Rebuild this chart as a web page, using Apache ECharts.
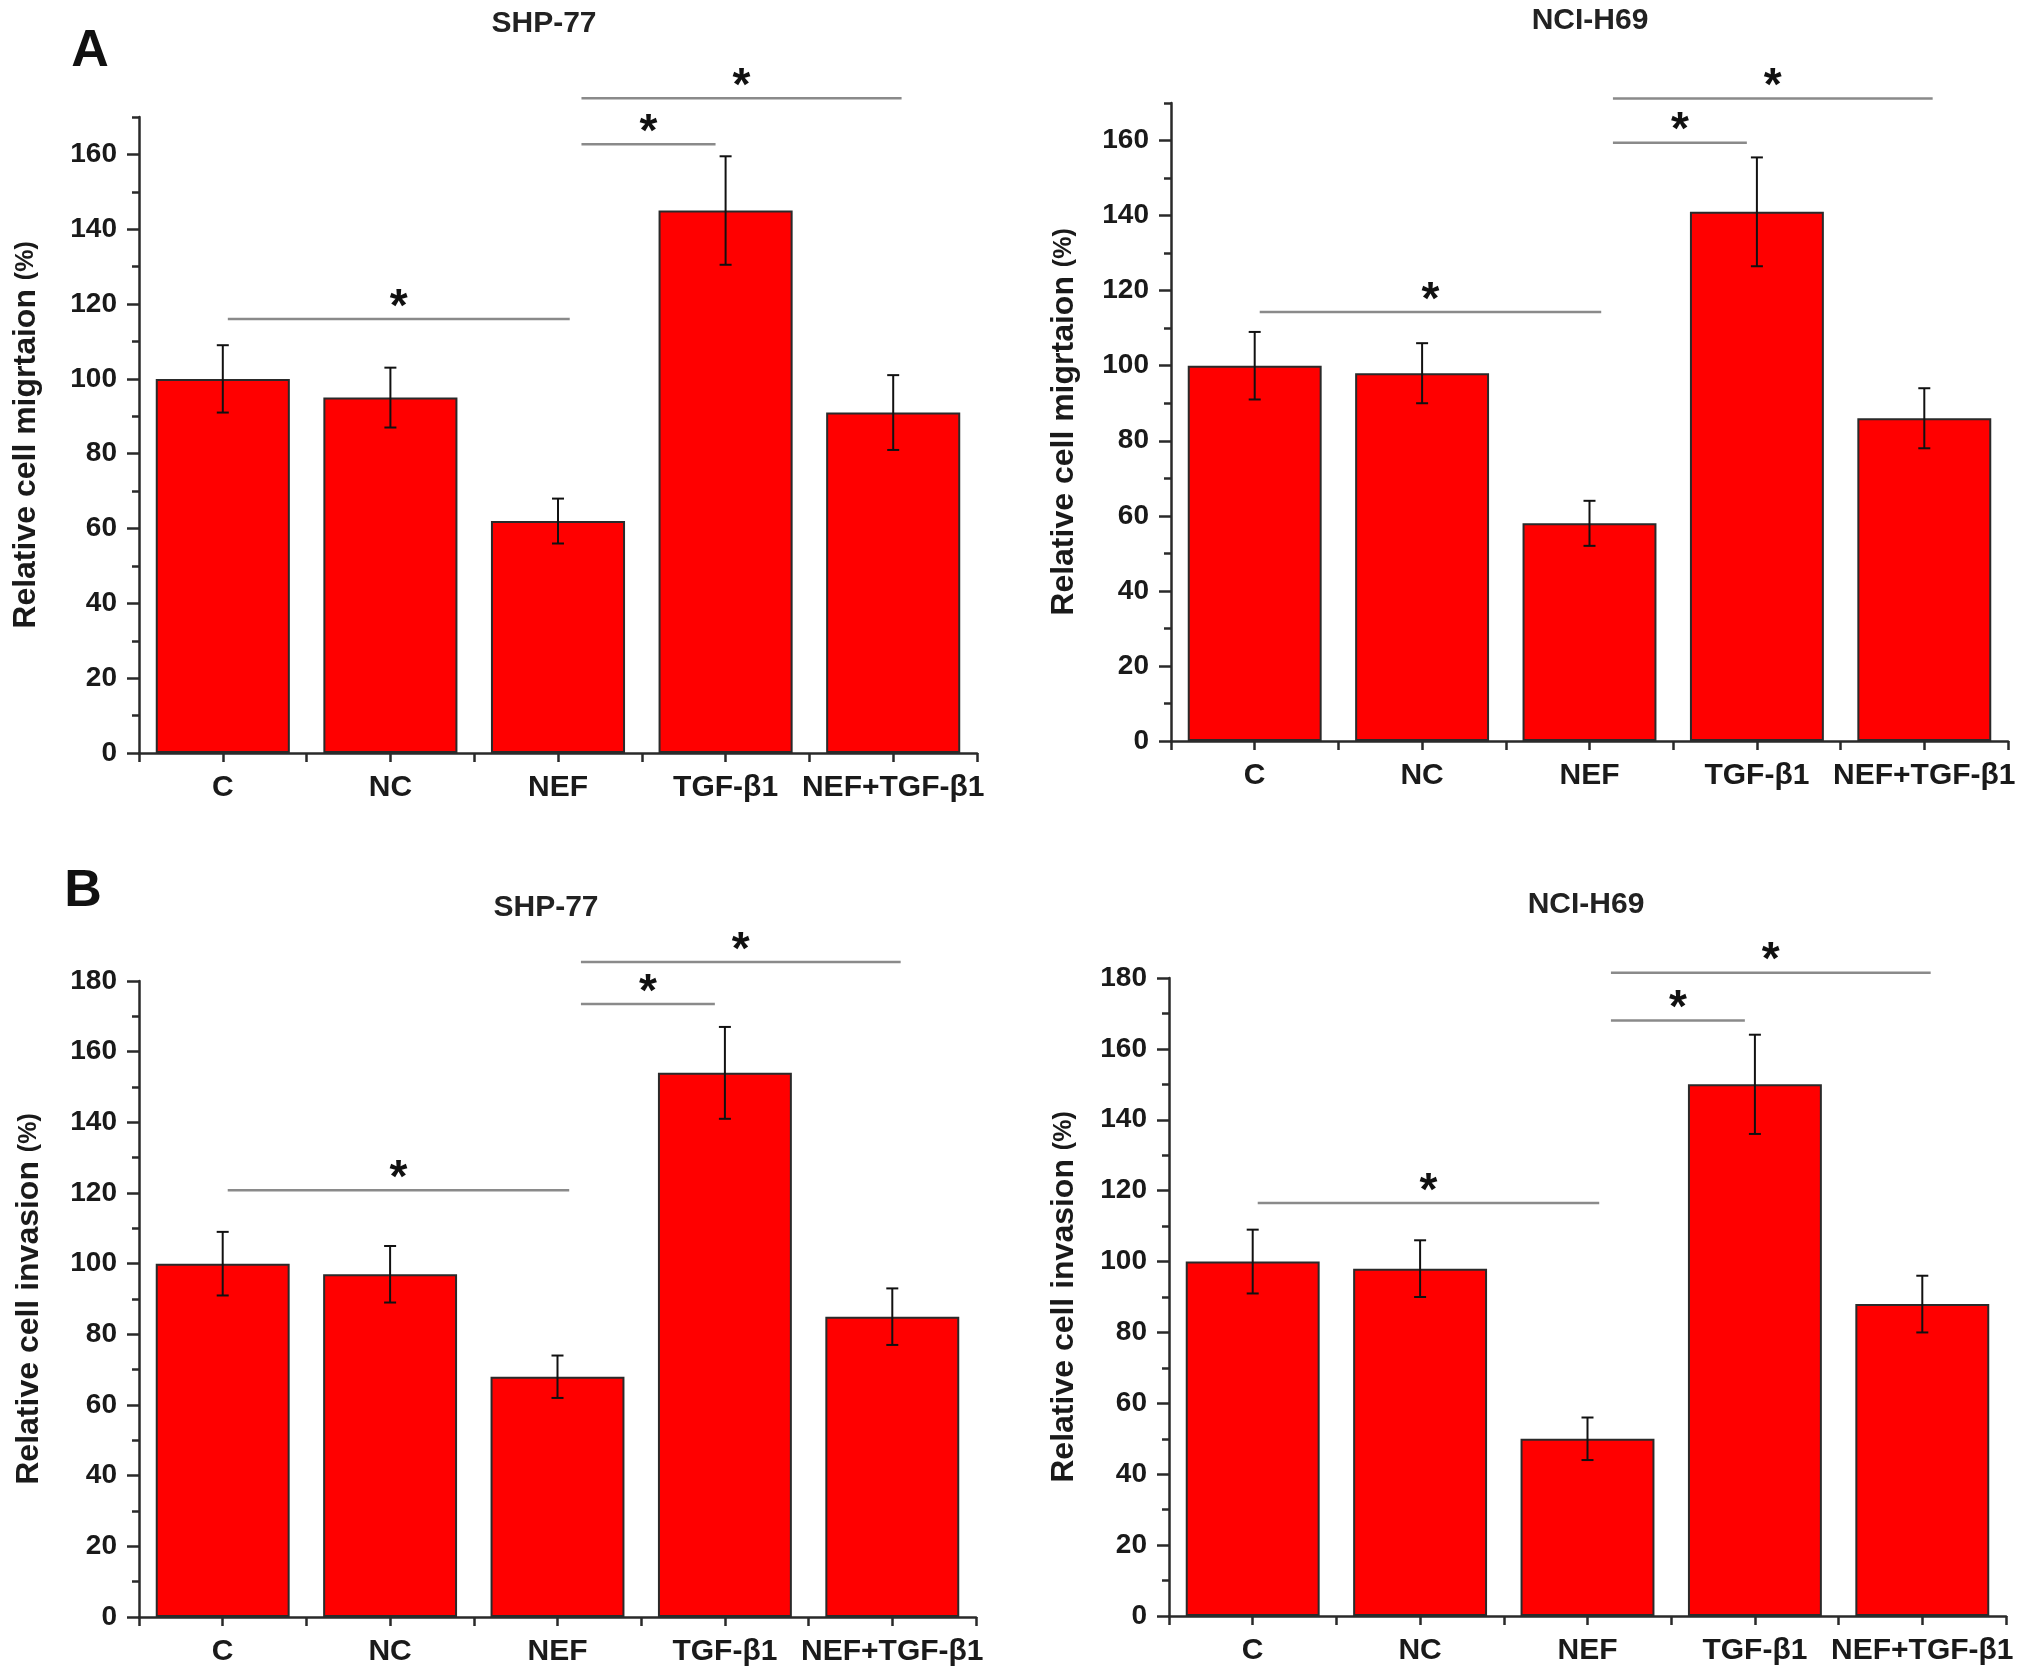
<!DOCTYPE html>
<html><head><meta charset="utf-8">
<script src="https://cdn.jsdelivr.net/npm/echarts@6/dist/echarts.min.js"></script>
<style>html,body{margin:0;padding:0;background:#fff}#c{width:2031px;height:1677px}</style>
</head><body><div id="c"></div>
<script>
// ---------- data ----------
const categories = ['C', 'NC', 'NEF', 'TGF-β1', 'NEF+TGF-β1'];

const migrationSHP = [100, 95, 62, 145, 91];
const migrationSHPErr = [9, 8, 6, 14.5, 10];
const migrationNCI = [100, 98, 58, 141, 86];
const migrationNCIErr = [9, 8, 6, 14.5, 8];
const invasionSHP = [100, 97, 68, 154, 85];
const invasionSHPErr = [9, 8, 6, 13, 8];
const invasionNCI = [100, 98, 50, 150, 88];
const invasionNCIErr = [9, 8, 6, 14, 8];

const migrationTicks = [0, 20, 40, 60, 80, 100, 120, 140, 160];
const migrationMinorTicks = [10, 30, 50, 70, 90, 110, 130, 150, 170];
const invasionTicks = [0, 20, 40, 60, 80, 100, 120, 140, 160, 180];
const invasionMinorTicks = [10, 30, 50, 70, 90, 110, 130, 150, 170];

// significance brackets: [from, to, height]
const sigMigrationSHP = [['C', 'NEF', 116], ['NEF', 'TGF-β1', 162.7], ['NEF', 'NEF+TGF-β1', 175]];
const sigMigrationNCI = [['C', 'NEF', 114.3], ['NEF', 'TGF-β1', 159.4], ['NEF', 'NEF+TGF-β1', 171.2]];
const sigInvasionSHP = [['C', 'NEF', 120.8], ['NEF', 'TGF-β1', 173.5], ['NEF', 'NEF+TGF-β1', 185.4]];
const sigInvasionNCI = [['C', 'NEF', 116.5], ['NEF', 'TGF-β1', 168], ['NEF', 'NEF+TGF-β1', 181.5]];

// ---------- styles ----------
const FONT = "'Liberation Sans', Arial, sans-serif";
const AXIS_COLOR = '#2a2a2a';
const bracketInset = [[0.03, 0.07], [0.14, -0.06], [0.14, 0.05]];

const panels = [
  { grid: { left: 139, right: 1054, top: 117, bottom: 924 }, max: 170, ticks: migrationTicks, minor: migrationMinorTicks,
    vals: migrationSHP, errs: migrationSHPErr, sig: sigMigrationSHP, name: 'Relative cell migrtaion', gap: 97,
    title: 'SHP-77', tx: 539, ty: 4 },
  { grid: { left: 1171, right: 23, top: 103, bottom: 936 }, max: 170, ticks: migrationTicks, minor: migrationMinorTicks,
    vals: migrationNCI, errs: migrationNCIErr, sig: sigMigrationNCI, name: 'Relative cell migrtaion', gap: 91,
    title: 'NCI-H69', tx: 1585, ty: 1 },
  { grid: { left: 139, right: 1055, top: 981, bottom: 60 }, max: 180, ticks: invasionTicks, minor: invasionMinorTicks,
    vals: invasionSHP, errs: invasionSHPErr, sig: sigInvasionSHP, name: 'Relative cell invasion', gap: 94,
    title: 'SHP-77', tx: 541, ty: 888 },
  { grid: { left: 1169, right: 25, top: 978, bottom: 61 }, max: 180, ticks: invasionTicks, minor: invasionMinorTicks,
    vals: invasionNCI, errs: invasionNCIErr, sig: sigInvasionNCI, name: 'Relative cell invasion', gap: 89,
    title: 'NCI-H69', tx: 1581, ty: 885 }
];

function renderErr(params, api) {
  const i = api.value(0), v = api.value(1), e = api.value(2);
  const top = api.coord([i, v + e]);
  const bot = api.coord([i, v - e]);
  const cap = 6;
  const st = { stroke: '#111', lineWidth: 2 };
  return { type: 'group', children: [
    { type: 'line', shape: { x1: top[0], y1: top[1], x2: bot[0], y2: bot[1] }, style: st },
    { type: 'line', shape: { x1: top[0] - cap, y1: top[1], x2: top[0] + cap, y2: top[1] }, style: st },
    { type: 'line', shape: { x1: bot[0] - cap, y1: bot[1], x2: bot[0] + cap, y2: bot[1] }, style: st }
  ]};
}

function renderSig(params, api) {
  const a = api.value(0), b = api.value(1), y = api.value(2);
  const band = api.size([1, 0])[0];
  const inset = bracketInset[params.dataIndex] || [0, 0];
  const p1 = api.coord([a, y]);
  const p2 = api.coord([b, y]);
  const x1 = p1[0] + inset[0] * band;
  const x2 = p2[0] + inset[1] * band;
  const yy = p1[1];
  return { type: 'group', children: [
    { type: 'line', shape: { x1: x1, y1: yy, x2: x2, y2: yy }, style: { stroke: '#8a8a8a', lineWidth: 2.5 } },
    { type: 'text', style: { text: '*', x: (x1 + x2) / 2, y: yy - 11, align: 'center', verticalAlign: 'middle',
      font: 'bold 46px ' + FONT, fill: '#111' } }
  ]};
}

const option = {
  backgroundColor: '#fff',
  animation: false,
  title: [], grid: [], xAxis: [], yAxis: [], series: [],
  graphic: [
    { type: 'text', style: { text: 'A', x: 90, y: 52, align: 'center', verticalAlign: 'middle', font: 'bold 52px ' + FONT, fill: '#111' } },
    { type: 'text', style: { text: 'B', x: 83, y: 892, align: 'center', verticalAlign: 'middle', font: 'bold 52px ' + FONT, fill: '#111' } }
  ]
};

panels.forEach((p, k) => {
  option.title.push({ text: p.title, left: p.tx, top: p.ty, textAlign: 'center',
    textStyle: { fontFamily: FONT, fontWeight: 'bold', fontSize: 30, color: '#222' } });
  option.grid.push(p.grid);
  // main x axis (labels + centre ticks)
  option.xAxis.push({ type: 'category', gridIndex: k, data: categories, position: 'bottom',
    axisLine: { show: true, lineStyle: { color: AXIS_COLOR, width: 2.5 } },
    axisTick: { show: true, alignWithLabel: true, length: 9, lineStyle: { color: AXIS_COLOR, width: 2.5 } },
    axisLabel: { interval: 0, hideOverlap: false, margin: 20, fontFamily: FONT, fontWeight: 'bold', fontSize: 30, color: '#1a1a1a' } });
  // secondary x axis (boundary ticks)
  option.xAxis.push({ type: 'category', gridIndex: k, data: categories, position: 'bottom',
    axisLine: { show: false },
    axisTick: { show: true, interval: 0, length: 9, lineStyle: { color: AXIS_COLOR, width: 2.5 } },
    axisLabel: { show: false } });
  // main y axis
  option.yAxis.push({ type: 'value', gridIndex: k, min: 0, max: p.max, position: 'left',
    name: '{m|' + p.name + ' }{s|(%)}', nameLocation: 'middle', nameGap: p.gap,
    nameTextStyle: { rich: { m: { fontFamily: FONT, fontWeight: 'bold', fontSize: 32, color: '#1a1a1a' },
                             s: { fontFamily: FONT, fontWeight: 'bold', fontSize: 25, color: '#1a1a1a' } } },
    splitLine: { show: false },
    axisLine: { show: true, lineStyle: { color: AXIS_COLOR, width: 2.5 } },
    axisTick: { show: true, length: 12, customValues: p.ticks, lineStyle: { color: AXIS_COLOR, width: 2.5 } },
    axisLabel: { customValues: p.ticks, margin: 22, fontFamily: FONT, fontWeight: 'bold', fontSize: 28, color: '#1a1a1a' } });
  // minor tick y axis
  option.yAxis.push({ type: 'value', gridIndex: k, min: 0, max: p.max, position: 'left',
    splitLine: { show: false }, axisLine: { show: false }, axisLabel: { show: false },
    axisTick: { show: true, length: 7, customValues: p.minor, lineStyle: { color: AXIS_COLOR, width: 2.5 } } });

  const xi = k * 2, yi = k * 2;
  option.series.push({ type: 'bar', xAxisIndex: xi, yAxisIndex: yi, data: p.vals, barWidth: '80%',
    itemStyle: { color: '#ff0000', borderColor: '#2a2a2a', borderWidth: 2 }, z: 2 });
  option.series.push({ type: 'custom', xAxisIndex: xi, yAxisIndex: yi, renderItem: renderErr, z: 3,
    encode: { x: 0, y: 1 }, data: categories.map((c, i) => [c, p.vals[i], p.errs[i]]) });
  option.series.push({ type: 'custom', xAxisIndex: xi, yAxisIndex: yi, renderItem: renderSig, z: 4, clip: false,
    encode: { x: [0, 1], y: 2 }, data: p.sig });
});

const chart = echarts.init(document.getElementById('c'));
chart.setOption(option);
</script>
</body></html>
